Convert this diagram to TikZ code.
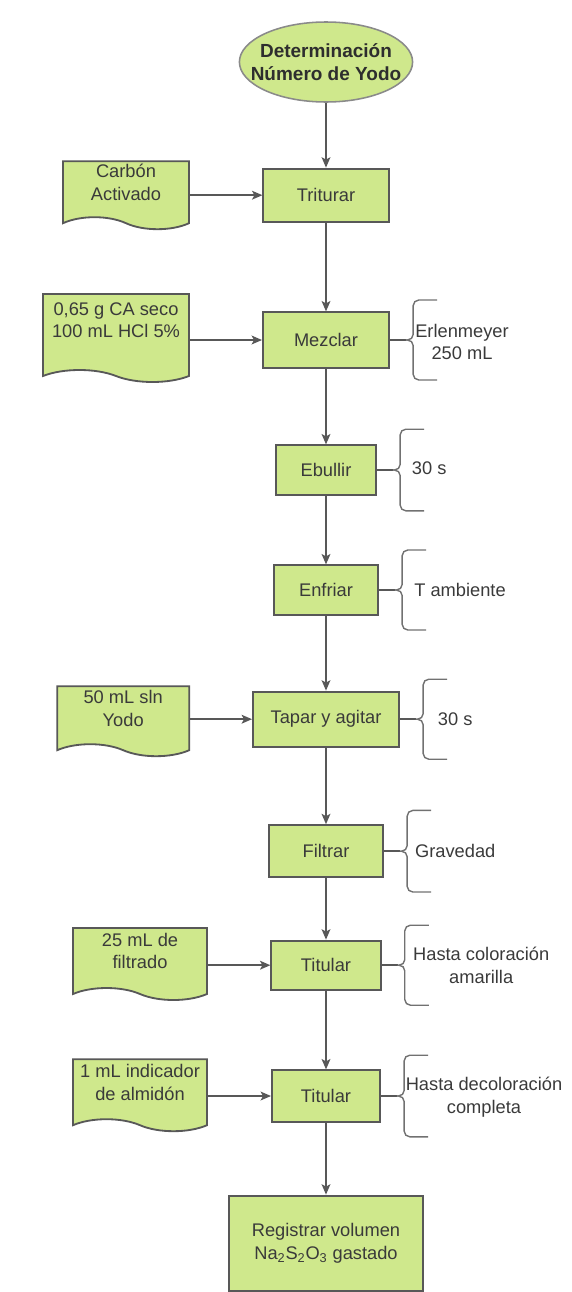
\documentclass[tikz,border=0pt]{standalone}
\usepackage{fontspec}
\setmainfont{Liberation Sans}
\usepackage{tikz}
\usetikzlibrary{arrows.meta,positioning,calc,shapes.geometric,shapes.symbols}
\usepackage{xcolor}
\definecolor{leaf}{HTML}{CFE88C}
\definecolor{edge}{HTML}{585858}
\definecolor{ink}{HTML}{3A3A3A}

\begin{document}
\begin{tikzpicture}[
    start/.style={ellipse, draw=edge!70, line width=1.1pt, fill=leaf, minimum width=4.33cm, minimum height=2cm, inner xsep=-10pt, inner ysep=0pt, font=\fontsize{13.5}{16}\selectfont\bfseries, text=ink!80!black, align=center},
    stepbox/.style={rectangle, draw=edge, line width=1.4pt, fill=leaf, font=\fontsize{13}{16}\selectfont, text=ink, align=center},
    doc/.style={tape, tape bend top=none, tape bend bottom=out and in, tape bend height=0.3cm, draw=edge, line width=1.3pt, fill=leaf, inner sep=1pt, text depth=0.35cm, font=\fontsize{13}{16}\selectfont, text=ink, align=center},
    note/.style={font=\fontsize{13}{16}\selectfont, text=ink, align=center},
    arr/.style={-{Stealth[length=2.6mm, width=2.2mm, inset=0.6mm]}, line width=1.1pt, color=edge},
    link/.style={line width=1.1pt, color=edge},
    brc/.style={line width=1pt, color=edge!85, rounded corners=4pt}
]
\useasboundingbox (0,0) rectangle (14.275,-32.3);

% Start
\node[start] (ini) at (8.15,-1.55) {Determinación\\Número de Yodo};

% Main steps (centre column)
\node[stepbox, minimum width=3.13cm, minimum height=1.33cm] (tri) at (8.15,-4.88) {Triturar};
\node[stepbox, minimum width=3.15cm, minimum height=1.38cm] (mez) at (8.15,-8.5) {Mezclar};
\node[stepbox, minimum width=2.5cm, minimum height=1.23cm] (ebu) at (8.15,-11.75) {Ebullir};
\node[stepbox, minimum width=2.6cm, minimum height=1.23cm] (enf) at (8.15,-14.75) {Enfriar};
\node[stepbox, minimum width=3.65cm, minimum height=1.38cm] (tap) at (8.15,-17.98) {Tapar y agitar};
\node[stepbox, minimum width=2.85cm, minimum height=1.3cm] (fil) at (8.15,-21.28) {Filtrar};
\node[stepbox, minimum width=2.73cm, minimum height=1.23cm] (ti1) at (8.15,-24.13) {Titular};
\node[stepbox, minimum width=2.7cm, minimum height=1.28cm] (ti2) at (8.15,-27.4) {Titular};
\node[stepbox, minimum width=4.83cm, minimum height=2.38cm] (reg) at (8.15,-31.08) {Registrar volumen\\Na\textsubscript{2}S\textsubscript{2}O\textsubscript{3} gastado};

% Inputs (left)
\node[doc, minimum width=3.15cm, minimum height=1.7cm] (in1) at (3.15,-4.73) {Carbón\\Activado};
\node[doc, minimum width=3.65cm, minimum height=2.2cm, text depth=0.6cm] (in2) at (2.9,-8.3) {0,65 g CA seco\\100 mL HCl 5\%};
\node[doc, minimum width=3.3cm, minimum height=1.75cm] (in3) at (3.08,-17.88) {50 mL sln\\Yodo};
\node[doc, minimum width=3.35cm, minimum height=1.8cm] (in4) at (3.5,-23.95) {25 mL de\\filtrado};
\node[doc, minimum width=3.35cm, minimum height=1.8cm] (in5) at (3.5,-27.23) {1 mL indicador\\de almidón};

% Flow
\draw[arr] (ini) -- (tri);
\draw[arr] (tri) -- (mez);
\draw[arr] (mez) -- (ebu);
\draw[arr] (ebu) -- (enf);
\draw[arr] (enf) -- (tap);
\draw[arr] (tap) -- (fil);
\draw[arr] (fil) -- (ti1);
\draw[arr] (ti1) -- (ti2);
\draw[arr] (ti2) -- (reg);

\draw[arr] (in1.east |- tri) -- (tri);
\draw[arr] (in2.east |- mez) -- (mez);
\draw[arr] (in3.east |- tap) -- (tap);
\draw[arr] (in4.east |- ti1) -- (ti1);
\draw[arr] (in5.east |- ti2) -- (ti2);

% Conditions (right, with braces)
\node[note] (c2) at (11.55,-8.55) {Erlenmeyer\\250 mL};
\node[note] (c3) at (10.73,-11.7) {30 s};
\node[note] (c4) at (11.5,-14.75) {T ambiente};
\node[note] (c5) at (11.38,-17.98) {30 s};
\node[note] (c6) at (11.38,-21.28) {Gravedad};
\node[note] (c7) at (12.03,-24.13) {Hasta coloración\\amarilla};
\node[note] (c8) at (12.1,-27.43) {Hasta decoloración\\completa};

\draw[link] (mez.east) -- ++(0.4,0) coordinate (b2);
\draw[brc] (b2) -- ++(0.18,0) |- ++(0.6,1);
\draw[brc] (b2) -- ++(0.18,0) |- ++(0.6,-1);

\draw[link] (ebu.east) -- ++(0.4,0) coordinate (b3);
\draw[brc] (b3) -- ++(0.18,0) |- ++(0.6,1.02);
\draw[brc] (b3) -- ++(0.18,0) |- ++(0.6,-1.02);

\draw[link] (enf.east) -- ++(0.4,0) coordinate (b4);
\draw[brc] (b4) -- ++(0.18,0) |- ++(0.6,1);
\draw[brc] (b4) -- ++(0.18,0) |- ++(0.6,-1);

\draw[link] (tap.east) -- ++(0.4,0) coordinate (b5);
\draw[brc] (b5) -- ++(0.18,0) |- ++(0.6,1);
\draw[brc] (b5) -- ++(0.18,0) |- ++(0.6,-1);

\draw[link] (fil.east) -- ++(0.4,0) coordinate (b6);
\draw[brc] (b6) -- ++(0.18,0) |- ++(0.6,1.02);
\draw[brc] (b6) -- ++(0.18,0) |- ++(0.6,-1.02);

\draw[link] (ti1.east) -- ++(0.4,0) coordinate (b7);
\draw[brc] (b7) -- ++(0.18,0) |- ++(0.6,1);
\draw[brc] (b7) -- ++(0.18,0) |- ++(0.6,-1);

\draw[link] (ti2.east) -- ++(0.4,0) coordinate (b8);
\draw[brc] (b8) -- ++(0.18,0) |- ++(0.6,1.02);
\draw[brc] (b8) -- ++(0.18,0) |- ++(0.6,-1.02);

\end{tikzpicture}
\end{document}
